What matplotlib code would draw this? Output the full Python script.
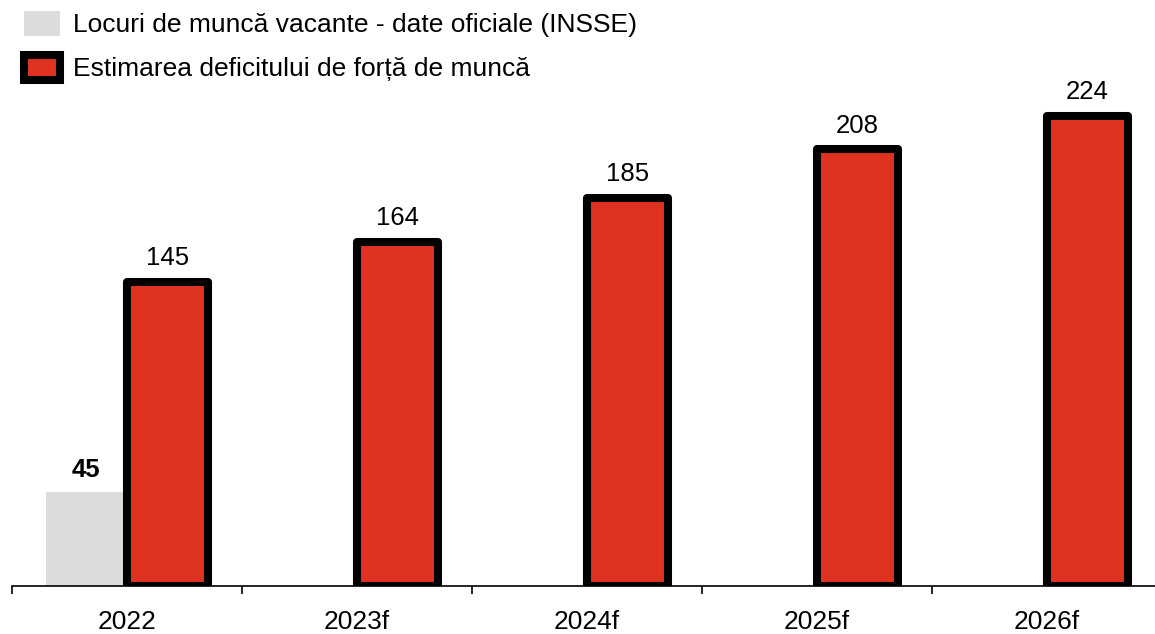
import numpy as np
import matplotlib.pyplot as plt
from matplotlib.patches import Patch

plt.rcParams['font.family'] = ['Liberation Sans', 'DejaVu Sans']

years = ["2022", "2023f", "2024f", "2025f", "2026f"]
vacante = [45, None, None, None, None]
deficit = [145, 164, 185, 208, 224]

RED = "#E03220"
GRAY = "#DCDCDC"

fig = plt.figure(figsize=(11.55, 6.34), dpi=100)
ax = fig.add_axes([12 / 1155, 48 / 634, 1150 / 1155, 504 / 634])

x = np.arange(len(years))
w = 0.353

# gray bars only where there is official data
for i, v in enumerate(vacante):
    if v is not None:
        ax.bar(x[i] - w / 2, v, w, color=GRAY, linewidth=0, zorder=2)
        ax.annotate(str(v), (x[i] - w / 2, v), xytext=(0, 7), textcoords="offset points",
                    ha="center", va="bottom", fontsize=18.5, fontweight="bold")

bars = ax.bar(x + w / 2, deficit, w, color=RED, edgecolor="black", linewidth=5.8,
              joinstyle="round", zorder=3)
for xi, v in zip(x, deficit):
    ax.annotate(str(v), (xi + w / 2, v), xytext=(0, 8), textcoords="offset points",
                ha="center", va="bottom", fontsize=18.5)

ax.set_xlim(-0.5, len(years) - 0.5)
ax.set_ylim(0, 240)
ax.set_yticks([])
for s in ["top", "right", "left"]:
    ax.spines[s].set_visible(False)
ax.spines["bottom"].set_linewidth(1.2)

ax.set_xticks(np.arange(len(years) + 1) - 0.5)
ax.set_xticklabels([])
ax.tick_params(axis="x", which="major", length=6, width=1.2, direction="out")
ax.set_xticks(x, minor=True)
ax.set_xticklabels(years, minor=True, fontsize=19)
ax.tick_params(axis="x", which="minor", length=0, pad=17)

handles = [
    Patch(facecolor=GRAY, edgecolor="none", label="Locuri de muncă vacante - date oficiale (INSSE)"),
    Patch(facecolor=RED, edgecolor="black", linewidth=5.8, joinstyle="round",
          label="Estimarea deficitului de forță de muncă"),
]
fig.legend(handles=handles, loc="upper left", bbox_to_anchor=(24 / 1155, 1 - 11 / 634),
           frameon=False, fontsize=19, handlelength=1.36, handleheight=1.08,
           handletextpad=0.48, labelspacing=0.66, borderaxespad=0, borderpad=0)

fig.savefig("out.png", dpi=100)
